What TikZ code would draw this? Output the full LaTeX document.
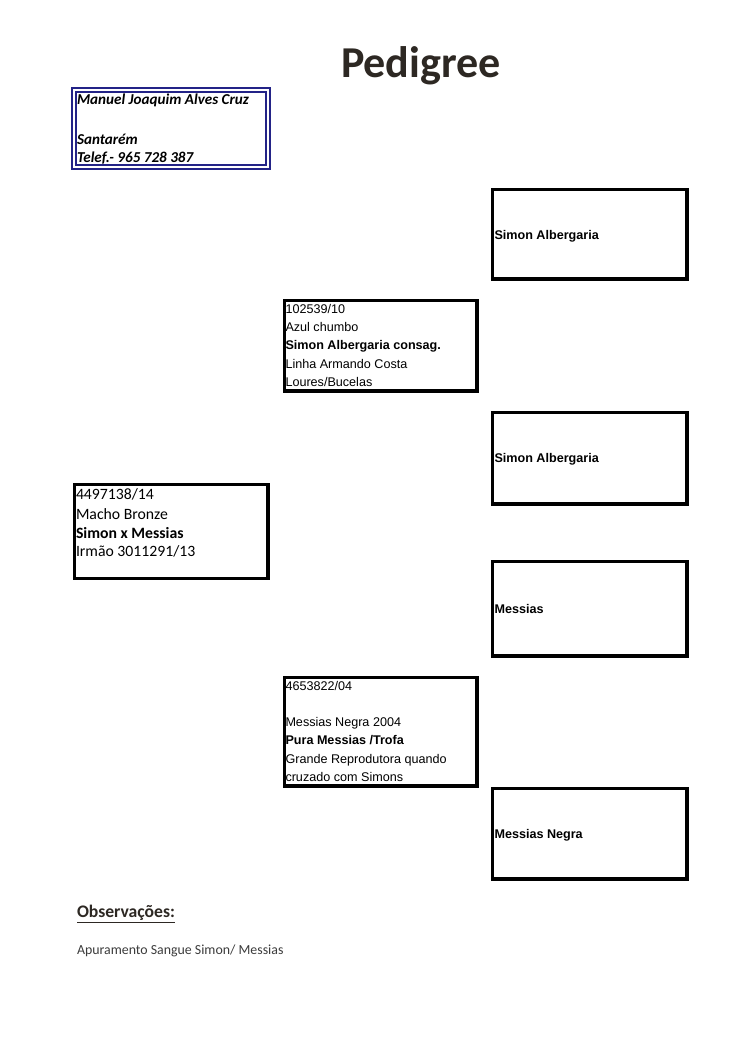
\documentclass[tikz,border=0pt]{standalone}
\usepackage{fontspec}
\setmainfont{Carlito}
\newfontfamily\arialf{Liberation Sans}
\definecolor{navy}{RGB}{35,35,135}
\definecolor{darktext}{RGB}{45,40,35}
\definecolor{graytext}{RGB}{60,60,60}
\tikzset{
  pbox/.style={draw=black, line width=2.5pt, inner sep=0pt, outer sep=0pt},
  hbox/.style={draw=navy, double=white, line width=1.5pt, double distance=1.0pt, inner sep=0pt, outer sep=0pt},
  txt/.style={anchor=base west, inner sep=0pt, outer sep=0pt},
  ar/.style={txt, font=\arialf\fontsize{10}{12}\selectfont},
  arb/.style={txt, font=\arialf\bfseries\fontsize{10}{12}\selectfont},
  cal/.style={txt, font=\fontsize{12.5}{14}\selectfont},
  calb/.style={txt, font=\bfseries\fontsize{12.5}{14}\selectfont},
  hdr/.style={txt, font=\bfseries\itshape\fontsize{12}{14}\selectfont},
}
\begin{document}
\begin{tikzpicture}[x=0.7937pt, y=-0.7937pt]
\useasboundingbox[fill=white] (0,0) rectangle (750,1061);
% title
\node[anchor=base, inner sep=0pt, font=\bfseries\fontsize{35}{40}\selectfont, text=darktext] (title) at (421,78) {Pedigree};
% header box
\node[hbox, minimum width=194*0.7937pt, minimum height=77*0.7937pt] (hb) at (171,128.5) {};
\node[hdr] (h1) at (77,105) {Manuel Joaquim Alves Cruz};
\node[hdr] (h2) at (77,144) {Santarém};
\node[hdr] (h3) at (77,162) {Telef.- 965 728 387};
% subject box
\node[pbox, minimum width=193.5*0.7937pt, minimum height=94*0.7937pt] (a) at (171.25,531.5) {};
\node[cal] (a1) at (76,499.5) {4497138/14};
\node[cal] (a2) at (76,519.5) {Macho Bronze};
\node[calb] (a3) at (76,538) {Simon x Messias};
\node[cal] (a4) at (76,556.5) {Irmão 3011291/13};
% sire box
\node[pbox, minimum width=192.5*0.7937pt, minimum height=90.5*0.7937pt] (b) at (380.75,345.75) {};
\node[ar] (b1) at (285.5,313.5) {102539/10};
\node[ar] (b2) at (285.5,331.5) {Azul chumbo};
\node[arb] (b3) at (285.5,349.5) {Simon Albergaria consag.};
\node[ar] (b4) at (285.5,368) {Linha Armando Costa};
\node[ar] (b5) at (285.5,386.5) {Loures/Bucelas};
% dam box
\node[pbox, minimum width=192.5*0.7937pt, minimum height=108.5*0.7937pt] (c) at (380.75,731.75) {};
\node[ar] (c1) at (285.5,690.5) {4653822/04};
\node[ar] (c2) at (285.5,726.5) {Messias Negra 2004};
\node[arb] (c3) at (285.5,744.5) {Pura Messias /Trofa};
\node[ar] (c4) at (285.5,763) {Grande Reprodutora quando};
\node[ar] (c5) at (285.5,781.5) {cruzado com Simons};
% grandparents
\node[pbox, minimum width=194.5*0.7937pt, minimum height=89.5*0.7937pt] (r1) at (589.75,234.25) {};
\node[arb] (r1t) at (494.5,239.5) {Simon Albergaria};
\node[pbox, minimum width=194.5*0.7937pt, minimum height=91.5*0.7937pt] (r2) at (589.75,458.25) {};
\node[arb] (r2t) at (494.5,462) {Simon Albergaria};
\node[pbox, minimum width=194.5*0.7937pt, minimum height=94.5*0.7937pt] (r3) at (589.75,608.75) {};
\node[arb] (r3t) at (494.5,613.5) {Messias};
\node[pbox, minimum width=194.5*0.7937pt, minimum height=90.5*0.7937pt] (r4) at (589.75,833.75) {};
\node[arb] (r4t) at (494.5,838) {Messias Negra};
% observations
\node[txt, font=\bfseries\fontsize{14}{16}\selectfont, text=darktext] (obs) at (77,917.5) {\underline{Observações:}};
\node[txt, font=\fontsize{11}{13}\selectfont, text=graytext] (obs2) at (77,954.5) {Apuramento Sangue Simon/ Messias};
\end{tikzpicture}
\end{document}
